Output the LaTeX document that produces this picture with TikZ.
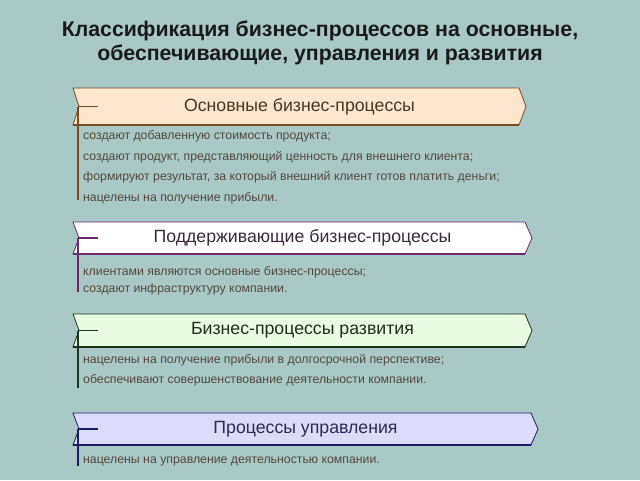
\documentclass[tikz,border=0pt]{standalone}
\usepackage{fontspec}
\setmainfont{Liberation Sans}
\definecolor{bgcol}{HTML}{AAC9C6}
\definecolor{titlecol}{HTML}{1A1A1A}
\definecolor{notecol}{HTML}{54483E}
\definecolor{fillA}{HTML}{FDE6CE}
\definecolor{lineA}{HTML}{7A4A22}
\definecolor{textA}{HTML}{4A3626}
\definecolor{fillB}{HTML}{FFFFFF}
\definecolor{lineB}{HTML}{6A2A6A}
\definecolor{textB}{HTML}{3C2A3C}
\definecolor{fillC}{HTML}{E9FBE3}
\definecolor{lineC}{HTML}{1E321E}
\definecolor{textC}{HTML}{1E2E1E}
\definecolor{fillD}{HTML}{DCDCFA}
\definecolor{lineD}{HTML}{1A1A66}
\definecolor{textD}{HTML}{2A2A55}
\tikzset{
  title/.style={font=\bfseries\fontsize{21.3}{24}\selectfont, text=titlecol, align=center},
  banner/.style={font=\fontsize{17.7}{20}\selectfont, inner sep=0pt},
  note/.style={font=\fontsize{12.3}{14}\selectfont, text=notecol, anchor=west, inner sep=0pt},
}
\begin{document}
\begin{tikzpicture}[x=1pt,y=-1pt]
  \fill[bgcol] (0,0) rectangle (640,480);
  \node[title] (title) at (320,43) {Классификация бизнес-процессов на основные,\\обеспечивающие, управления и развития};
  % banners
  \foreach \n/\t/\b/\r/\e/\k/\txt in {
    a/88/125/526/200/A/Основные бизнес-процессы,
    b/222/254/532/292/B/Поддерживающие бизнес-процессы,
    c/314/347/532/388/C/Бизнес-процессы развития,
    d/413/445/538/466/D/Процессы управления}
  {
    \pgfmathsetmacro\m{(\t+\b)/2}
    \pgfmathsetmacro\cx{(73+\r)/2}
    \draw[line width=0.8pt, draw=line\k, fill=fill\k]
      (73,\t) -- (\r-7,\t) -- (\r,\m) -- (\r-7,\b) -- (73,\b) -- (79,\m) -- cycle;
    \draw[line width=2pt, draw=line\k] (73,\b) -- (\r-7,\b);
    \node[banner, text=text\k] (\n) at (\cx,\m) {\txt};
    \coordinate (\n-top) at (78,\m);
    \coordinate (\n-tick) at (98,\m);
    \coordinate (\n-end) at (78,\e);
    \draw[line width=1.2pt, draw=line\k] (\n-top) -- (\n-tick) (\n-top) -- (\n-end);
  }
  % notes
  \foreach \y/\txt [count=\i] in {
    136/создают добавленную стоимость продукта;,
    157/{создают продукт, представляющий ценность для внешнего клиента;},
    177/{формируют результат, за который внешний клиент готов платить деньги;},
    198/нацелены на получение прибыли.,
    272/клиентами являются основные бизнес-процессы;,
    289/создают инфраструктуру компании.,
    360/нацелены на получение прибыли в долгосрочной перспективе;,
    380/обеспечивают совершенствование деятельности компании.,
    461/нацелены на управление деятельностью компании.}
    \node[note] (note\i) at (83,\y) {\txt};
\end{tikzpicture}
\end{document}
